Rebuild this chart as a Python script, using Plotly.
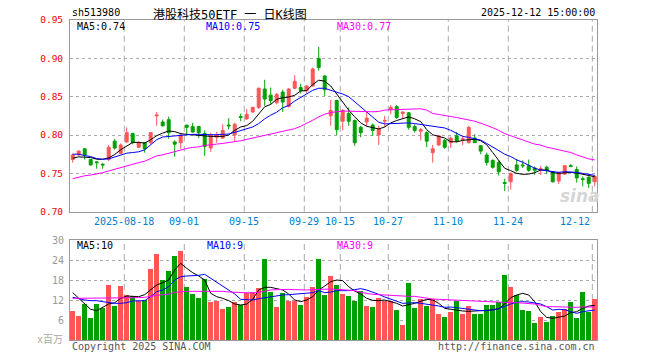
import plotly.graph_objects as go

# ---------------- data ----------------
dates = (
    ["2025-08-%s" % d for d in ["05","06","07","08","11","12","13","14","15","18","19","20","21","22","25","26","27","28","29"]]
    + ["2025-09-%s" % d for d in ["01","02","03","04","05","08","09","10","11","12","15","16","17","18","19","22","23","24","25","26","29","30"]]
    + ["2025-10-%s" % d for d in ["09","10","13","14","15","16","17","20","21","22","23","24","27","28","29","30","31"]]
    + ["2025-11-%s" % d for d in ["03","04","05","06","07","10","11","12","13","14","17","18","19","20","21","24","25","26","27","28"]]
    + ["2025-12-%s" % d for d in ["01","02","03","04","05","08","09","10","11","12"]]
)

open_ = [0.768,0.774,0.782,0.768,0.765,0.762,0.768,0.792,0.776,0.791,
         0.802,0.784,0.790,0.790,0.825,0.817,0.820,0.791,0.790,0.813,
         0.811,0.811,0.802,0.783,0.797,0.796,0.813,0.800,0.824,0.821,
         0.830,0.836,0.860,0.852,0.842,0.856,0.837,0.861,0.862,0.858,
         0.864,0.900,0.877,0.825,0.845,0.818,0.828,0.819,0.810,0.817,
         0.813,0.800,0.818,0.833,0.837,0.828,0.829,0.811,0.805,0.803,
         0.777,0.787,0.793,0.790,0.799,0.794,0.790,0.796,0.786,0.774,
         0.767,0.764,0.738,0.739,0.761,0.761,0.760,0.757,0.755,0.758,
         0.752,0.740,0.749,0.760,0.755,0.743,0.745,0.739]
close = [0.774,0.779,0.774,0.761,0.764,0.761,0.784,0.783,0.787,0.803,
         0.790,0.790,0.782,0.803,0.826,0.812,0.803,0.788,0.800,0.810,
         0.804,0.803,0.785,0.800,0.800,0.806,0.812,0.814,0.823,0.827,
         0.836,0.861,0.847,0.845,0.853,0.843,0.860,0.870,0.858,0.864,
         0.886,0.888,0.859,0.832,0.807,0.832,0.818,0.790,0.803,0.822,
         0.806,0.808,0.819,0.836,0.823,0.830,0.810,0.806,0.807,0.792,
         0.782,0.799,0.784,0.796,0.792,0.795,0.810,0.790,0.779,0.764,
         0.758,0.752,0.737,0.750,0.754,0.760,0.754,0.754,0.756,0.754,
         0.739,0.751,0.760,0.759,0.744,0.742,0.737,0.746]
high = [0.776,0.780,0.783,0.769,0.766,0.763,0.787,0.795,0.789,0.810,
        0.803,0.792,0.791,0.804,0.830,0.820,0.824,0.793,0.803,0.813,
        0.816,0.812,0.806,0.803,0.804,0.814,0.822,0.816,0.828,0.834,
        0.837,0.862,0.872,0.862,0.855,0.859,0.861,0.878,0.867,0.865,
        0.888,0.915,0.878,0.846,0.846,0.834,0.836,0.820,0.812,0.830,
        0.815,0.812,0.825,0.839,0.839,0.831,0.830,0.814,0.809,0.805,
        0.787,0.800,0.795,0.798,0.804,0.798,0.812,0.801,0.787,0.777,
        0.768,0.767,0.743,0.751,0.769,0.767,0.768,0.759,0.760,0.760,
        0.753,0.752,0.760,0.762,0.759,0.746,0.746,0.748]
low = [0.764,0.773,0.768,0.760,0.756,0.756,0.766,0.781,0.775,0.790,
       0.788,0.783,0.777,0.788,0.812,0.811,0.795,0.772,0.782,0.801,
       0.803,0.796,0.773,0.778,0.790,0.795,0.807,0.792,0.818,0.820,
       0.829,0.834,0.838,0.840,0.840,0.830,0.836,0.860,0.854,0.854,
       0.863,0.884,0.851,0.812,0.800,0.806,0.812,0.786,0.797,0.811,
       0.799,0.787,0.810,0.827,0.821,0.821,0.807,0.803,0.793,0.784,
       0.764,0.786,0.782,0.783,0.790,0.787,0.789,0.790,0.775,0.760,
       0.756,0.747,0.727,0.729,0.752,0.757,0.752,0.748,0.748,0.749,
       0.738,0.736,0.748,0.758,0.738,0.733,0.731,0.733]

ma5 = [0.7697,0.7715,0.7711,0.7706,0.7684,0.7684,0.7702,0.7746,0.7807,0.7860,
       0.7904,0.7904,0.7895,0.7939,0.7991,0.8026,0.8053,0.8044,0.8018,0.8009,
       0.8000,0.8000,0.7991,0.7982,0.7982,0.7982,0.8000,0.8061,0.8105,0.8123,
       0.8180,0.8268,0.8368,0.8399,0.8465,0.8487,0.8496,0.8518,0.8575,0.8579,
       0.8658,0.8715,0.8702,0.8640,0.8531,0.8421,0.8325,0.8237,0.8158,0.8114,
       0.8092,0.8079,0.8105,0.8158,0.8189,0.8215,0.8237,0.8211,0.8175,0.8070,
       0.8004,0.7982,0.7961,0.7912,0.7912,0.7930,0.7939,0.7947,0.7925,0.7873,
       0.7772,0.7667,0.7566,0.7535,0.7500,0.7487,0.7491,0.7509,0.7544,0.7544,
       0.7509,0.7500,0.7509,0.7513,0.7504,0.7491,0.7474,0.7456]
ma10 = [0.7750,0.7750,0.7732,0.7719,0.7693,0.7684,0.7689,0.7711,0.7741,0.7763,
        0.7772,0.7781,0.7807,0.7873,0.7939,0.7974,0.7982,0.7991,0.8000,0.8004,
        0.8009,0.8009,0.8004,0.8004,0.8004,0.8009,0.8013,0.8035,0.8057,0.8079,
        0.8105,0.8149,0.8211,0.8259,0.8298,0.8355,0.8386,0.8443,0.8487,0.8531,
        0.8583,0.8610,0.8610,0.8583,0.8561,0.8535,0.8500,0.8434,0.8368,0.8298,
        0.8228,0.8167,0.8145,0.8149,0.8154,0.8158,0.8158,0.8149,0.8136,0.8123,
        0.8114,0.8105,0.8092,0.8061,0.8026,0.7982,0.7969,0.7956,0.7934,0.7890,
        0.7846,0.7794,0.7750,0.7719,0.7675,0.7645,0.7601,0.7566,0.7544,0.7535,
        0.7522,0.7513,0.7522,0.7522,0.7513,0.7500,0.7487,0.7474]
ma30 = [0.7430,0.7452,0.7469,0.7478,0.7491,0.7509,0.7531,0.7553,0.7579,0.7605,
        0.7623,0.7640,0.7658,0.7697,0.7728,0.7741,0.7763,0.7785,0.7807,0.7825,
        0.7838,0.7846,0.7864,0.7877,0.7882,0.7890,0.7899,0.7912,0.7925,0.7943,
        0.7961,0.7974,0.7996,0.8013,0.8031,0.8048,0.8066,0.8083,0.8114,0.8149,
        0.8193,0.8237,0.8272,0.8294,0.8303,0.8311,0.8311,0.8307,0.8307,0.8307,
        0.8303,0.8307,0.8325,0.8329,0.8333,0.8338,0.8342,0.8342,0.8342,0.8325,
        0.8281,0.8268,0.8259,0.8241,0.8228,0.8215,0.8202,0.8180,0.8154,0.8127,
        0.8096,0.8061,0.8018,0.7991,0.7961,0.7930,0.7908,0.7882,0.7868,0.7842,
        0.7825,0.7811,0.7794,0.7772,0.7741,0.7711,0.7689,0.7675]

volume = [8.8,7.2,10.8,6.6,10.8,9.6,16.6,10.2,16.2,13.4,
          13.2,11.8,12.0,21.3,25.8,18.0,20.8,25.2,26.8,16.0,
          13.8,12.6,18.2,11.4,11.8,9.4,10.0,11.4,10.4,14.0,
          14.5,15.6,24.3,14.4,9.9,14.1,11.8,11.8,10.5,12.9,
          15.9,24.3,13.5,19.2,16.5,13.8,13.2,11.7,14.7,10.2,
          9.9,12.6,11.7,11.7,9.0,4.5,17.1,9.6,12.3,10.2,
          12.3,7.8,6.9,8.4,11.7,7.8,10.2,7.8,7.8,10.5,
          10.5,11.4,19.5,15.9,13.5,9.0,8.7,5.1,6.9,5.4,
          7.2,8.4,9.3,11.4,6.6,14.4,8.4,12.3]
vol_ma5 = [14.2,12.5,10.8,9.2,8.8,9.8,10.8,11.2,12.5,13.2,
           13.2,13.0,13.6,15.0,16.5,17.2,18.0,21.0,23.0,21.5,
           20.2,19.2,18.0,14.0,13.0,12.5,11.8,10.8,10.5,10.8,
           12.2,15.0,15.8,15.8,15.5,15.0,13.8,12.0,11.5,12.0,
           13.0,15.0,16.2,17.5,18.0,17.8,16.0,14.7,13.8,12.5,
           11.9,11.8,12.0,11.6,11.0,10.2,10.5,11.0,11.6,12.2,
           12.0,11.0,9.5,9.2,9.0,8.7,8.6,8.8,8.8,8.8,
           9.0,9.4,10.8,12.7,13.5,14.0,13.5,11.5,8.5,6.8,
           6.5,6.8,7.2,8.2,8.5,9.5,10.2,10.4]
vol_ma10 = [12.8,12.3,12.0,11.8,11.8,11.5,11.2,11.0,11.0,11.2,
            11.7,11.8,11.8,13.0,14.5,15.0,16.0,18.0,19.0,19.2,
            19.2,19.4,19.7,18.5,17.2,16.2,15.0,13.8,12.2,12.2,
            12.0,12.4,12.7,13.0,13.2,13.5,13.6,13.7,13.8,13.9,
            14.2,14.8,14.2,14.4,14.8,14.8,14.8,15.1,15.4,15.0,
            14.4,13.7,12.9,12.3,11.8,11.0,11.1,11.2,11.0,10.8,
            10.6,10.2,9.8,9.9,9.7,9.4,9.2,9.0,8.8,8.8,
            9.0,9.4,10.2,10.8,11.3,11.5,11.4,11.1,10.8,10.0,
            9.0,9.2,9.1,8.5,8.0,8.5,8.7,9.0]
vol_ma30 = [12.5,12.5,12.5,12.5,12.5,12.5,12.6,12.7,12.7,12.7,
            12.7,12.7,12.8,13.2,13.4,13.6,13.8,14.3,14.5,14.6,
            14.6,14.6,14.6,14.7,14.8,14.6,14.4,14.3,14.3,14.3,
            14.1,14.3,14.7,15.0,15.1,15.2,15.2,15.1,15.0,15.0,
            15.1,15.2,15.3,15.3,15.2,15.1,15.0,14.8,14.3,13.9,
            13.7,13.6,13.5,13.3,13.2,13.0,13.1,13.1,12.8,12.5,
            12.3,12.2,12.1,12.0,11.9,11.8,11.8,11.7,11.7,11.6,
            11.5,11.3,11.2,11.2,11.2,11.1,11.0,10.8,10.4,10.0,
            10.0,9.9,9.8,9.8,9.8,9.9,9.9,9.9]

tick_dates = ["2025-08-18","2025-09-01","2025-09-15","2025-09-29","2025-10-15",
              "2025-10-27","2025-11-10","2025-11-24","2025-12-12"]
tick_labels = ["2025-08-18","09-01","09-15","09-29","10-15","10-27","11-10","11-24","12-12"]
price_ticks = [0.70,0.75,0.80,0.85,0.90,0.95]
vol_ticks = [6,12,18,24,30]

# ---------------- styling ----------------
RED = "#ff5555"
GREEN = "#00a000"
GRID = "#aaaaaa"
FRAME = "#999999"
MONO = "DejaVu Sans Mono, Liberation Mono, monospace"
CJK = "DejaVu Sans Mono, Noto Sans CJK SC, monospace"

idx = list(range(len(dates)))
vol_colors = [RED if c >= o else GREEN for o, c in zip(open_, close)]
tick_pos = [dates.index(d) - 0.4 for d in tick_dates]
xr = [-0.45, len(dates) - 1 + 0.38]

fig = go.Figure()
fig.add_trace(go.Candlestick(
    x=idx, open=open_, high=high, low=low, close=close,
    increasing=dict(line=dict(color=RED, width=1), fillcolor=RED),
    decreasing=dict(line=dict(color=GREEN, width=1), fillcolor=GREEN),
    whiskerwidth=0, xaxis="x", yaxis="y", hoverinfo="skip"))
for ys, col in [(ma5, "black"), (ma10, "#0000ff"), (ma30, "#ff00ff")]:
    fig.add_trace(go.Scatter(x=idx, y=ys, mode="lines", line=dict(color=col, width=1),
                             xaxis="x", yaxis="y", hoverinfo="skip"))

fig.add_trace(go.Bar(x=idx, y=volume, marker=dict(color=vol_colors, line=dict(width=0)),
                     width=0.8, xaxis="x2", yaxis="y2", hoverinfo="skip"))
for ys, col in [(vol_ma5, "black"), (vol_ma10, "#0000ff"), (vol_ma30, "#ff00ff")]:
    fig.add_trace(go.Scatter(x=idx, y=ys, mode="lines", line=dict(color=col, width=1),
                             xaxis="x2", yaxis="y2", hoverinfo="skip"))

shapes = []
for p in tick_pos:
    for xa, ya in [("x", "y domain"), ("x2", "y2 domain")]:
        shapes.append(dict(type="line", xref=xa, yref=ya, x0=p, x1=p, y0=0, y1=1,
                           line=dict(color=GRID, width=1, dash="6px,4px"), layer="below"))

# page pixel -> paper coordinates (page body has an 8px margin; plot area is
# at page x 70..597, y 20..340)
H = 320.0
def py(pix):
    return (340 - pix) / H
def px(pix):
    return (pix - 70) / 527.0

ann = []
def A(text, x, y, xanchor="left", color="black", size=10, family=MONO, xref="paper"):
    ann.append(dict(text=text, x=x, y=y, xref=xref, yref="paper", xanchor=xanchor,
                    yanchor="middle", showarrow=False,
                    font=dict(color=color, size=size, family=family)))

A("sh513980", px(70), py(13))
A("港股科技50ETF 一 日K线图", px(230), py(14.5), xanchor="center", size=12, family=CJK)
A("2025-12-12 15:00:00", 1.0, py(13), xanchor="right")
A("MA5:0.74", px(75), py(26))
A("MA10:0.75", px(204), py(26), color="#0000ff")
A("MA30:0.77", px(335), py(26), color="#ff00ff")
A("MA5:10", px(75), py(245.5))
A("MA10:9", px(205), py(245.5), color="#0000ff")
A("MA30:9", px(335), py(245.5), color="#ff00ff")
for i, (p, lab) in enumerate(zip(tick_pos, tick_labels)):
    last = i == len(tick_pos) - 1
    A(lab, p, py(221.5), xanchor="right" if last else "center", color="#0080d0", xref="x")
A("Copyright 2025 SINA.COM", px(70), py(346), color="#555555")
A("http://finance.sina.com.cn", 1.0, py(346), xanchor="right", color="#555555")
A("x百万", px(65), py(339), xanchor="right", color="#aaaaaa", size=10, family=CJK)
A("<b><i>sina</i></b>", px(580), py(196), xanchor="center", color="#d6d6d6", size=17,
  family="DejaVu Sans")

axis_common = dict(showline=True, linecolor=FRAME, linewidth=1, mirror=True,
                   zeroline=False, automargin=False)
fig.update_layout(
    width=652, height=352,
    margin=dict(l=62, r=63, t=12, b=20, autoexpand=False),
    paper_bgcolor="white", plot_bgcolor="white", showlegend=False,
    xaxis=dict(domain=[0, 1], range=xr, showgrid=False, showticklabels=False,
               rangeslider=dict(visible=False), anchor="y", **axis_common),
    yaxis=dict(domain=[py(211.7), 1], range=[0.70, 0.95], tickvals=price_ticks,
               ticktext=["%.2f" % v for v in price_ticks],
               tickfont=dict(color="#ee0000", size=9.5, family=MONO),
               showgrid=True, gridcolor=GRID, griddash="dot", gridwidth=1,
               ticklabelstandoff=4, anchor="x", **axis_common),
    xaxis2=dict(domain=[0, 1], range=xr, showgrid=False, showticklabels=False,
                anchor="y2", **axis_common),
    yaxis2=dict(domain=[0, py(240)], range=[0, 30], tickvals=vol_ticks,
                ticktext=[str(v) for v in vol_ticks],
                tickfont=dict(color="#999999", size=10, family=MONO),
                showgrid=True, gridcolor=GRID, griddash="dot", gridwidth=1,
                ticklabelstandoff=3, anchor="x2", **axis_common),
    shapes=shapes, annotations=ann, bargap=0,
)

fig.write_html("out.html")
